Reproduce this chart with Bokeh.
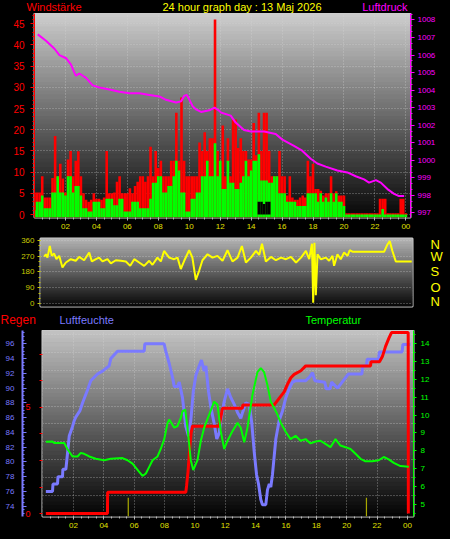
import numpy as np
from bokeh.plotting import figure
from bokeh.models import Range1d, LinearAxis, FixedTicker, Grid
from bokeh.layouts import column
from bokeh.embed import file_html
from bokeh.resources import INLINE
from bokeh.core.properties import value

FONT = "Liberation Sans"

# ------------------------------------------------------------------ data
hour_ticks = [2, 4, 6, 8, 10, 12, 14, 16, 18, 20, 22, 24]
hour_labels = ["02", "04", "06", "08", "10", "12", "14", "16", "18", "20", "22", "00"]

# Luftdruck (hPa)
press_t = [0.21, 0.74, 1.29, 1.61, 2.04, 2.36, 2.58, 2.68, 2.9, 3.12, 3.33, 3.76, 4.2, 4.84, 5.49,
           6.13, 6.78, 7.43, 8.07, 8.5, 9.15, 9.47, 9.69, 9.84, 10.01, 10.22, 10.44, 10.76, 11.3,
           11.63, 11.95, 12.04, 12.68, 13.0, 13.54, 13.98, 14.84, 15.59, 16.02, 16.77, 17.3, 17.85,
           18.28, 18.82, 19.57, 20.22, 20.76, 21.3, 21.62, 22.06, 22.38, 22.81, 23.24, 23.56, 23.89]
press = [1007.18, 1006.82, 1006.36, 1006.0, 1005.82, 1005.46, 1005.0, 1004.82, 1004.95, 1004.82,
         1004.7, 1004.27, 1004.15, 1004.04, 1003.91, 1003.82, 1003.82, 1003.73, 1003.64, 1003.45,
         1003.3, 1003.36, 1003.69, 1003.73, 1003.45, 1003.09, 1002.9, 1002.76, 1002.85, 1003.0,
         1002.82, 1002.73, 1002.55, 1002.15, 1001.73, 1001.64, 1001.64, 1001.5, 1001.18, 1000.82,
         1000.55, 1000.09, 999.82, 999.64, 999.42, 999.31, 999.09, 998.91, 998.73, 998.87, 998.73,
         998.36, 998.09, 997.96, 997.96]

# Windstärke: 10-minute samples (gust = red, mean = green)
gust = [5.2, 5.2, 5.2, 9, 4, 4,
        4, 8.6, 18.5, 9, 12, 8.5,
        5.2, 13, 15, 9, 12.7, 14.9,
        9, 5, 3.5, 3, 3.5, 5,
        3.7, 3.7, 3.5, 4, 15, 5,
        5, 5.2, 7.7, 9, 5, 5,
        5, 6.2, 5, 6.7, 7.7, 9,
        9, 7.7, 9, 16, 9, 15,
        11, 12.7, 9, 9, 9, 12.7,
        12.7, 24, 12.7, 27.6, 12.7, 9,
        9, 9, 9, 9, 17, 15,
        19.4, 15, 18, 18, 46, 15,
        9, 21, 9, 18, 9, 22.4,
        22.4, 15.7, 18, 15, 15, 13,
        13, 21.6, 14, 24, 15, 24,
        24, 15, 9, 9, 9, 15,
        9, 9, 4.5, 9, 4, 3.5,
        3.5, 4, 4.5, 4, 12.7, 9,
        12, 6, 6, 5.6, 4.5, 5,
        5, 9, 5, 5.5, 4.5, 4.5,
        4.5, 0.3, 0.3, 0.3, 0.3, 0.3,
        0.3, 0.3, 0.3, 0.3, 0.3, 0.3,
        0.3, 0.3, 3.7, 3.7, 3.7, 0.3,
        0.3, 0.3, 0.3, 0.3, 3.7, 3.7,
        0.3]
wind = [1, 3, 3, 4.5, 1.5, 1.5,
        1.5, 5.2, 5.2, 9, 5.2, 5.2,
        4.5, 9, 9, 5.2, 6.7, 6.7,
        4.5, 1.5, 1.5, 0.7, 0.7, 3,
        3, 3, 1.5, 1.5, 3.7, 3.7,
        3.7, 2.2, 2.2, 3.7, 3.7, 0.7,
        0.7, 0.7, 3, 3, 3, 1.5,
        1.5, 1.5, 1.5, 3.7, 7.5, 7.5,
        9, 9, 5.2, 5.2, 6.7, 6.7,
        9, 12.7, 10.4, 5.2, 5.2, 0.7,
        0.7, 3.7, 3.7, 5.2, 5.2, 9,
        9, 12.7, 9, 9, 16.8, 9,
        12.7, 6, 6, 12.7, 7.5, 7.5,
        6, 6, 7.5, 9, 12.7, 9,
        10.4, 12.7, 12.7, 14.2, 8, 8,
        8, 7.5, 7.5, 9, 9, 5,
        5, 5, 3, 3, 3, 3,
        2, 2, 2, 2, 5, 5,
        5, 5, 3, 5, 3, 4,
        3, 5, 3, 5, 3, 3,
        2, 0, 0, 0, 0, 0,
        0, 0, 0, 0, 0, 0,
        0, 0, 0, 1.3, 0, 0,
        0, 0, 0, 0, 0, 0,
        0]
wind_t = [i / 6 for i in range(len(gust))]
calm_t = [14.5, 14.67, 14.83, 15.0, 15.17]
calm = [3.0, 3.0, 2.5, 3.0, 3.0]

# Windrichtung (degrees)
dir_t = [0.64, 0.75, 0.85, 1.0, 1.13, 1.28, 1.43, 1.61, 1.82, 2.04,
         2.36, 2.68, 2.9, 3.22, 3.55, 3.72, 3.98, 4.19, 4.41, 4.73,
         4.95, 5.27, 5.6, 5.92, 6.2, 6.46, 6.78, 7.1, 7.43, 7.64,
         7.96, 8.18, 8.39, 8.72, 9.04, 9.26, 9.47, 9.69, 10.01, 10.22,
         10.44, 10.66, 10.87, 11.2, 11.52, 11.84, 12.17, 12.49, 12.81, 13.14,
         13.42, 13.68, 14.0, 14.33, 14.54, 14.72, 14.97, 15.3, 15.62, 15.95,
         16.27, 16.59, 16.92, 17.24, 17.56, 17.77, 17.95, 18.03, 18.11, 18.2,
         18.31, 18.52, 18.85, 19.06, 19.28, 19.38, 19.6, 19.81, 20.03, 20.25,
         20.39, 20.57, 22.62, 22.83, 22.98, 23.15, 23.37, 24.4]
wdir = [268, 281, 262, 328, 272, 285, 253, 272, 206, 234,
        253, 244, 266, 247, 291, 240, 253, 262, 240, 253,
        229, 247, 244, 240, 215, 253, 234, 215, 244, 221,
        262, 240, 300, 262, 253, 262, 197, 244, 304, 262,
        135, 188, 247, 281, 262, 272, 244, 304, 240, 262,
        328, 234, 262, 300, 277, 341, 240, 266, 247, 262,
        253, 266, 234, 262, 300, 253, 341, 4, 347, 47,
        281, 253, 262, 244, 272, 215, 281, 253, 291, 272,
        304, 296, 296, 337, 356, 300, 240, 240]
dir_ticks = [0, 90, 180, 270, 360]
dir_names = ["N", "O", "S", "W", "N"]

# Luftfeuchte (%)
hum_t = [0.18, 0.62, 0.65, 0.95, 0.98, 1.28, 1.3, 1.5, 1.6, 1.72, 1.94, 2.05, 2.16, 2.42, 2.6,
         2.92, 3.14, 3.58, 3.91, 4.35, 4.46, 4.9, 6.66, 6.7, 7.97, 8.08, 8.3, 8.52, 8.64, 8.85,
         8.97, 9.18, 9.4, 9.58, 9.73, 9.89, 10.06, 10.28, 10.43, 10.61, 10.72, 10.9, 11.05, 11.27,
         11.44, 11.6, 11.7, 11.93, 12.15, 12.37, 12.59, 12.81, 13.02, 13.14, 13.35, 13.58, 13.75,
         13.91, 14.06, 14.19, 14.34, 14.45, 14.67, 14.78, 14.9, 15.0, 15.11, 15.33, 15.55, 15.77,
         15.99, 16.21, 16.43, 16.65, 17.3, 17.55, 17.75, 17.9, 18.55, 18.65, 18.9, 19.0, 19.4,
         19.7, 20.1, 21.0, 21.05, 21.3, 21.35, 22.1, 22.15, 23.65, 23.7, 24.2]
hum = [76, 76, 77, 77, 78, 78, 79, 79, 81, 83.5, 84.8, 85.6, 86.1, 86.9, 88,
       89.7, 91, 91.9, 92.3, 93, 94, 95, 95, 96, 96, 95, 93.4, 91.5, 90.2, 90.2,
       90.8, 88.7, 84.8, 83.5, 85.6, 89.5, 91.7, 93, 93.8, 92.3, 93, 89.5, 87.4, 85.2,
       83.1, 83.9, 85.6, 88.2, 89.9, 88.7, 87.8, 86.7, 85.9, 86.7, 88, 87.8, 85.2,
       81.3, 78.3, 77, 74.9, 74.2, 74.2, 76.2, 77, 76.6, 78.3, 83.1, 85.6, 86.9,
       88.7, 89.9, 90.8, 91.0, 91.0, 91.5, 92.1, 91.0, 90.8, 89.9, 89.9, 90.8, 90.0,
       90.8, 91.9, 91.9, 93, 93, 93.9, 93.9, 94.9, 94.9, 95.9, 95.9]

# Temperatur (°C)
temp_t = [0.18, 0.62, 0.73, 1.39, 1.6, 1.94, 2.27, 2.48, 2.7, 3.04, 3.47, 4.02, 4.46, 5.23, 5.56,
          5.89, 6.33, 6.55, 6.77, 6.99, 7.21, 7.54, 7.75, 7.98, 8.2, 8.31, 8.64, 8.85, 9.07, 9.18,
          9.36, 9.51, 9.73, 9.89, 10.17, 10.39, 10.61, 10.94, 11.27, 11.49, 11.7, 11.93, 12.15,
          12.48, 12.81, 13.02, 13.25, 13.46, 13.79, 14.12, 14.34, 14.56, 14.78, 15.0, 15.22, 15.44,
          15.66, 15.99, 16.3, 16.63, 16.96, 17.29, 17.62, 17.95, 18.27, 18.6, 18.93, 19.26, 19.59,
          19.92, 20.25, 20.58, 20.91, 21.24, 21.68, 22.11, 22.44, 22.77, 23.1, 23.54, 24.09]
temp = [8.51, 8.52, 8.43, 8.43, 8.1, 7.68, 7.68, 7.88, 7.83, 7.68, 7.55, 7.47, 7.55, 7.59, 7.47,
        7.28, 6.82, 6.59, 6.73, 7.1, 7.47, 7.68, 8.1, 8.65, 9.56, 9.75, 9.29, 9.38, 9.84, 10.2,
        10.3, 9.29, 7.47, 6.92, 7.47, 8.56, 9.29, 10.02, 10.75, 10.57, 9.11, 8.1, 8.56,
        9.11, 9.56, 9.29, 8.47, 9.29, 11.12, 12.4, 12.62, 12.4, 11.66, 10.75, 10.39, 10.02,
        9.56, 9.05, 8.65, 8.84, 8.56, 8.65, 8.41, 8.52, 8.56, 8.38, 8.2, 8.65, 8.29,
        8.2, 8.1, 7.83, 7.55, 7.41, 7.41, 7.47, 7.65, 7.52, 7.32, 7.14, 7.1]

# Regen (mm, cumulative) and rain-rate marks
rain_t = [0.18, 4.24, 4.25, 9.4, 9.45, 9.55, 9.65, 9.75, 9.84, 11.6, 11.7, 11.82, 13.12, 13.16,
          15.22, 15.55, 15.88, 16.1, 16.32, 16.54, 16.98, 17.3, 21.57, 21.6, 22.16, 22.35, 22.56,
          22.78, 22.95, 24.05, 24.06]
rain = [0, 0, 1.0, 1.0, 1.3, 2.0, 3.0, 3.8, 4.12, 4.12, 4.5, 4.96, 4.96, 5.12,
        5.12, 5.43, 5.74, 6.1, 6.4, 6.56, 6.73, 6.96, 6.96, 7.16, 7.16, 7.4, 7.88,
        8.27, 8.53, 8.53, 0]
rate_t = [5.61, 21.3]
rate = [0.74, 0.74]

# titles
top_titles = ["Windstärke", "24 hour graph day : 13 Maj 2026", "Luftdruck"]
bottom_titles = ["Regen", "Luftfeuchte", "Temperatur"]

# ------------------------------------------------------------------ helpers
RED, MAG, GRN, BLU, YEL = "#ff0000", "#ff00ff", "#00ff00", "#7a7aff", "#ffff00"
XLAB = "#e0e000"
W = 450


def add_gradient(p, xr, yr, top, bot, n=48):
    edges = np.linspace(yr.start, yr.end, n + 1)
    cols = []
    for i in range(n):
        f = (i + 0.5) / n
        rgb = tuple(int(round(b + (t - b) * f)) for t, b in zip(top, bot))
        cols.append("#%02x%02x%02x" % rgb)
    r = p.quad(left=xr.start, right=xr.end, bottom=edges[:-1], top=edges[1:],
               fill_color=cols, line_color=cols, line_width=1)
    r.level = "image"


def style_axis(ax, color, size, tick_out=4, minor_out=2, standoff=3, line=True, tick_in=0):
    ax.major_label_text_color = color
    ax.major_label_text_font = FONT
    ax.major_label_text_font_size = size
    ax.major_tick_line_color = color
    ax.minor_tick_line_color = color
    ax.major_tick_out = tick_out
    ax.major_tick_in = tick_in
    ax.minor_tick_out = minor_out
    ax.minor_tick_in = 0
    ax.major_label_standoff = standoff
    ax.axis_line_color = color if line else None


def style_grid(g, ticks=None):
    if ticks is not None:
        g.ticker = FixedTicker(ticks=ticks)
    g.grid_line_color = "#d8d8d8"
    g.grid_line_alpha = 0.55
    g.grid_line_dash = "1 2"


def hour_axis(ax):
    ax.ticker = FixedTicker(ticks=hour_ticks, minor_ticks=[k * 0.5 for k in range(1, 49)])
    ax.major_label_overrides = {t: s for t, s in zip(hour_ticks, hour_labels)}
    ax.major_label_text_color = XLAB
    ax.major_label_text_font = FONT
    ax.major_label_text_font_size = "8px"
    ax.major_tick_line_color = "#bbbbbb"
    ax.minor_tick_line_color = "#bbbbbb"
    ax.major_tick_out = 3
    ax.minor_tick_out = 2
    ax.major_tick_in = 0
    ax.minor_tick_in = 0
    ax.major_label_standoff = 3
    ax.axis_line_color = None


def base_fig(h, xr, yr, bl, br, bt, bb, **kw):
    p = figure(width=W, height=h, x_range=xr, y_range=yr, output_backend="svg",
               toolbar_location=None, min_border_left=bl, min_border_right=br,
               min_border_top=bt, min_border_bottom=bb, **kw)
    p.frame_align = False
    p.background_fill_color = "black"
    p.border_fill_color = "black"
    p.outline_line_color = "#d0d0d0"
    p.outline_line_width = 2
    return p


def title_strip(h, xs, aligns, texts, colors, sizes):
    t = figure(width=W, height=h, x_range=Range1d(0, W), y_range=Range1d(0, h),
               output_backend="svg", toolbar_location=None, x_axis_location=None,
               y_axis_location=None, min_border=0)
    t.frame_align = False
    t.background_fill_color = "black"
    t.border_fill_color = "black"
    t.outline_line_color = None
    t.grid.visible = False
    for x, a, s, c, fs in zip(xs, aligns, texts, colors, sizes):
        t.text(x=[x], y=[h / 2], text=[s], text_color=c, text_align=a,
               text_baseline="middle", text_font=value(FONT), text_font_size=fs)
    return t


# ------------------------------------------------------------------ top panel
t1 = title_strip(13, [26, 241.5, 407], ["left", "center", "right"], top_titles,
                 [RED, YEL, MAG], ["11px", "11px", "11px"])

x1 = Range1d(0.0, 24.3)
y1 = Range1d(-0.7, 47.4)
p1 = base_fig(223, x1, y1, 34, 40, 0, 19)
p1.extra_y_ranges = {"press": Range1d(996.74, 1008.37)}
add_gradient(p1, x1, y1, (205, 205, 205), (6, 6, 6))

ax = p1.yaxis[0]
ax.ticker = FixedTicker(ticks=list(range(0, 46, 5)), minor_ticks=list(range(0, 48)))
style_axis(ax, RED, "10px", standoff=6)
rax = LinearAxis(y_range_name="press")
rax.ticker = FixedTicker(ticks=list(range(997, 1009)),
                         minor_ticks=[997 + k / 3 for k in range(0, 35)])
style_axis(rax, MAG, "8px")
p1.add_layout(rax, "right")
hour_axis(p1.xaxis[0])
style_grid(p1.xgrid, hour_ticks)
style_grid(p1.ygrid, list(range(0, 46, 5)))

p1.vbar(x=wind_t, width=1 / 6, bottom=y1.start, top=gust, fill_color=RED, line_color=None)
p1.vbar(x=wind_t, width=1 / 6, bottom=y1.start, top=wind, fill_color=GRN, line_color=None)
p1.vbar(x=calm_t, width=1 / 6, bottom=0, top=calm, fill_color="black", line_color=None)
p1.line(press_t, press, y_range_name="press", line_color=MAG, line_width=2)

# ------------------------------------------------------------------ middle panel
x2 = Range1d(0.4, 24.45)
y2 = Range1d(-17, 371)
p2 = base_fig(72, x2, y2, 40, 38, 2, 2, x_axis_location=None)
add_gradient(p2, x2, y2, (180, 180, 180), (6, 6, 6))
ax = p2.yaxis[0]
ax.ticker = FixedTicker(ticks=dir_ticks, minor_ticks=list(range(0, 361, 30)))
style_axis(ax, "#c8c800", "8px", tick_out=3, minor_out=2, line=False)
nax = LinearAxis()
nax.ticker = FixedTicker(ticks=dir_ticks)
nax.major_label_overrides = {t: s for t, s in zip(dir_ticks, dir_names)}
style_axis(nax, YEL, "13px", tick_out=0, minor_out=0, standoff=18, line=False)
nax.major_tick_line_color = None
nax.minor_tick_line_color = None
p2.add_layout(nax, "right")
p2.xgrid.visible = False
style_grid(p2.ygrid, dir_ticks)
p2.line(dir_t, wdir, line_color=YEL, line_width=2)

# ------------------------------------------------------------------ bottom panel
t3 = title_strip(22, [0, 59, 305], ["left", "left", "left"], bottom_titles,
                 [RED, BLU, GRN], ["12px", "11px", "11px"])

x3 = Range1d(-0.04, 24.4)
y3 = Range1d(72.6, 97.8)
p3 = base_fig(209, x3, y3, 42, 37, 0, 23, y_axis_location=None)
p3.extra_y_ranges = {"rain": Range1d(-0.14, 8.63), "temp": Range1d(4.32, 14.73)}
add_gradient(p3, x3, y3, (195, 195, 195), (2, 2, 2))

rain_ticks = [0, 1.25, 2.5, 3.75, 5, 6.25, 7.5]
rain_ax = LinearAxis(y_range_name="rain")
rain_ax.ticker = FixedTicker(ticks=rain_ticks)
rain_ax.major_label_overrides = {t: ("0" if t == 0 else "5" if t == 5 else "") for t in rain_ticks}
style_axis(rain_ax, RED, "9px", tick_out=3, standoff=9, line=False)
p3.add_layout(rain_ax, "left")

hum_ax = LinearAxis()
hum_ax.ticker = FixedTicker(ticks=list(range(74, 97, 2)),
                            minor_ticks=[73 + k * 0.5 for k in range(0, 50)])
style_axis(hum_ax, BLU, "8px", tick_out=0, minor_out=0, standoff=8, tick_in=4)
hum_ax.minor_tick_in = 2
hum_ax.axis_line_width = 2
p3.add_layout(hum_ax, "left")

temp_ax = LinearAxis(y_range_name="temp")
temp_ax.ticker = FixedTicker(ticks=list(range(5, 15)),
                             minor_ticks=[4.5 + k * 0.5 for k in range(0, 22)])
style_axis(temp_ax, GRN, "8px", tick_out=3, minor_out=2, standoff=4)
p3.add_layout(temp_ax, "right")
hour_axis(p3.xaxis[0])
style_grid(p3.xgrid, hour_ticks)
p3.ygrid.visible = False
g = Grid(dimension=1, y_range_name="temp", ticker=FixedTicker(ticks=[k + 0.5 for k in range(5, 15)]))
style_grid(g)
p3.add_layout(g, "center")

p3.vbar(x=rate_t, width=0.08, bottom=-0.14, top=rate, y_range_name="rain",
        fill_color="#a8a800", line_color=None)
p3.line(hum_t, hum, line_color=BLU, line_width=3)
p3.line(rain_t, rain, y_range_name="rain", line_color=RED, line_width=3)
p3.line(temp_t, temp, y_range_name="temp", line_color=GRN, line_width=2)

layout = column(t1, p1, p2, t3, p3, spacing=0)
layout.styles = {"background-color": "black"}
open("out.html", "w").write(file_html(layout, INLINE))
